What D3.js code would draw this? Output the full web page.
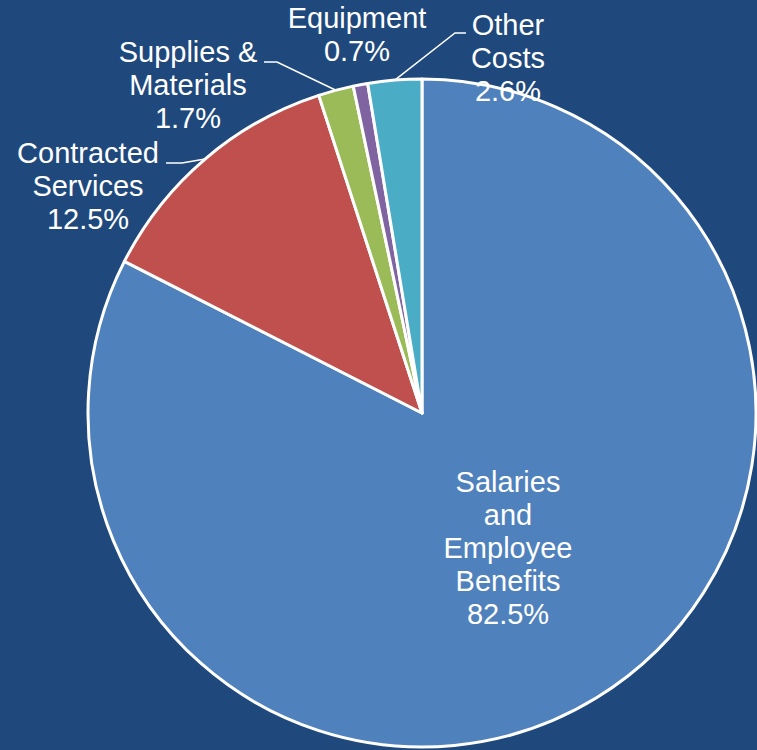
<!DOCTYPE html>
<html>

<head>
    <meta charset="utf-8">
    <title>Expenditures by Category</title>
    <script src="https://d3js.org/d3.v7.min.js"></script>
    <style>
        body {
            margin: 0;
            background: #1f497d;
        }

        .label {
            font-family: "Liberation Sans", Arial, sans-serif;
            font-size: 29px;
            fill: #fff;
            text-anchor: middle;
        }

        .leader {
            stroke: #fff;
            stroke-width: 1.5px;
            fill: none;
        }
    </style>
</head>

<body>
    <svg width="757" height="750"></svg>
    <script>
        // Data
        var categories = [
            "Salaries\nand\nEmployee\nBenefits",
            "Contracted\nServices",
            "Supplies &\nMaterials",
            "Equipment",
            "Other\nCosts"
        ];
        var values = [82.5, 12.5, 1.7, 0.7, 2.6];
        var colors = ["#4f81bd", "#c0504d", "#9bbb59", "#8064a2", "#4bacc6"];

        // Label layout: centre x, first baseline y, optional leader (elbow, end)
        var labelLayout = [
            { x: 508, y: 492, leader: null },
            { x: 88, y: 163, leader: [[182, 163], [166, 163]] },
            { x: 188, y: 62, leader: [[277, 62], [264, 62]] },
            { x: 357, y: 28, leader: null },
            { x: 508, y: 35, leader: [[455, 33], [466, 33]] }
        ];

        var svg = d3.select("svg"),
            width = +svg.attr("width"),
            height = +svg.attr("height");

        svg.append("rect")
            .attr("width", width)
            .attr("height", height)
            .attr("fill", "#1f497d");

        var cx = 422, cy = 413, r = 334, lineH = 33;

        var pie = d3.pie().sort(null);
        var arcs = pie(values);

        var arc = d3.arc().innerRadius(0).outerRadius(r);
        var edge = d3.arc().innerRadius(r).outerRadius(r);

        var g = svg.append("g")
            .attr("transform", `translate(${cx},${cy})`);

        g.selectAll("path.slice")
            .data(arcs)
            .enter().append("path")
            .attr("class", "slice")
            .attr("d", arc)
            .attr("fill", (d, i) => colors[i])
            .attr("stroke", "#fff")
            .attr("stroke-width", 3)
            .attr("stroke-linejoin", "round");

        // Leader lines from slice edge to label
        arcs.forEach((d, i) => {
            var lay = labelLayout[i];
            if (!lay.leader) return;
            var p = edge.centroid(d);
            var pts = [[p[0] + cx, p[1] + cy]].concat(lay.leader);
            svg.append("path")
                .attr("class", "leader")
                .attr("d", d3.line()(pts));
        });

        // Labels
        var fmt = d3.format(".1f");
        arcs.forEach((d, i) => {
            var lay = labelLayout[i];
            var lines = categories[i].split("\n").concat([fmt(values[i]) + "%"]);
            var t = svg.append("text")
                .attr("class", "label")
                .attr("x", lay.x)
                .attr("y", lay.y);
            lines.forEach((s, j) => {
                t.append("tspan")
                    .attr("x", lay.x)
                    .attr("dy", j === 0 ? 0 : lineH)
                    .text(s);
            });
        });
    </script>
</body>

</html>
